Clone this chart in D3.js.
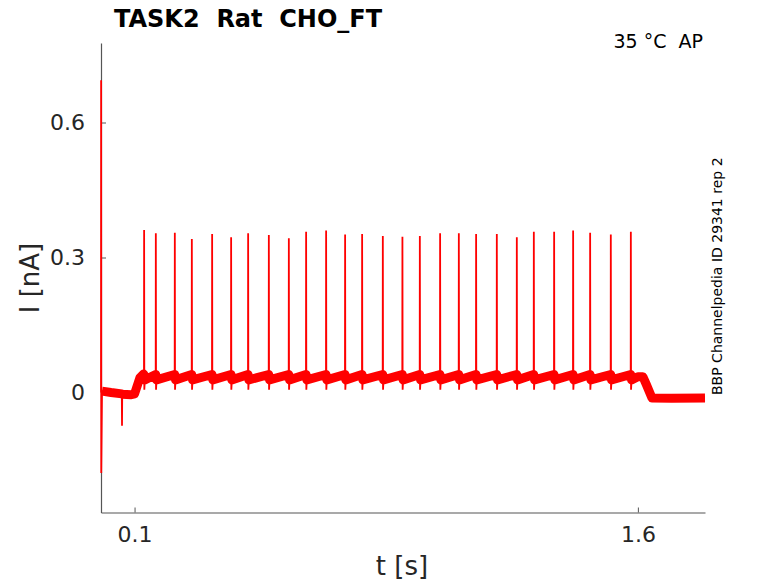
<!DOCTYPE html>
<html>
<head>
<meta charset="utf-8">
<script src="https://cdn.jsdelivr.net/npm/d3@7"></script>
<style>
  html, body { margin: 0; padding: 0; background: #fff; }
  svg { display: block; font-family: "DejaVu Sans", sans-serif; }
</style>
</head>
<body>
<svg id="chart" width="778" height="583"></svg>
<script>
// ---------- data ----------
const title = "TASK2  Rat  CHO_FT";
const conditionLabel = "35 °C  AP";
const sideLabel = "BBP Channelpedia ID 29341 rep 2";
const xLabel = "t [s]";
const yLabel = "I [nA]";

const xTickValues = [0.1, 1.6];
const xTickLabels = ["0.1", "1.6"];
const yTickValues = [0, 0.3, 0.6];
const yTickLabels = ["0", "0.3", "0.6"];

// Pre-stimulus segment (incl. onset transient and small negative spike)
const preStimT = [0.000, 0.0004, 0.0008, 0.0030, 0.0300, 0.0620, 0.0626, 0.0632, 0.0900, 0.1000, 0.1160, 0.1270];
const preStimV = [0.000, 0.694, -0.179, 0.003, 0.000, -0.003, -0.074, -0.004, -0.005, -0.003, 0.033, 0.041];

// Action-potential spikes
const spikeTimes = [0.1281, 0.1630, 0.2196, 0.2703, 0.3308, 0.3874, 0.4381, 0.4998, 0.5594,
                    0.6109, 0.6705, 0.7271, 0.7778, 0.8395, 0.8979, 0.9498, 1.0102, 1.0660,
                    1.1175, 1.1792, 1.2388, 1.2895, 1.3500, 1.4066, 1.4573, 1.5189, 1.5786];
const spikePeaks = [0.361, 0.354, 0.355, 0.341, 0.352, 0.345, 0.354, 0.350, 0.343,
                    0.357, 0.360, 0.351, 0.352, 0.348, 0.346, 0.348, 0.354, 0.354,
                    0.352, 0.352, 0.345, 0.357, 0.357, 0.360, 0.355, 0.351, 0.357];
const preSpikeLevel = 0.040;   // baseline just before each spike
const afterDipLevel = 0.006;   // brief undershoot after each spike
const postSpikeLevel = 0.028;  // baseline just after each spike

// Post-stimulus segment
const postStimT = [1.6000, 1.6150, 1.6250, 1.6420, 1.7000, 1.8000];
const postStimV = [0.035, 0.035, 0.018, -0.012, -0.013, -0.012];

// ---------- layout ----------
const svg = d3.select("#chart");
const mLeft = 101, mRight = 705, mTop = 43, mBottom = 512.5;
const x = d3.scaleLinear().domain([0, 1.8]).range([mLeft, mRight]);
const y = d3.scaleLinear().domain([-0.2667, 0.7767]).range([mBottom, mTop]);

const axisColor = "#555";
const textColor = "#262626";
const red = "#ff0000";

// ---------- build trace ----------
const thin = [];   // full trace incl. spikes
const band = [];   // noisy baseline band (no spikes)
preStimT.forEach((t, i) => thin.push([t, preStimV[i]]));
preStimT.forEach((t, i) => { if (i >= 3 && i !== 6) band.push([t, preStimV[i]]); });
spikeTimes.forEach((t, i) => {
  thin.push([t, preSpikeLevel]);
  thin.push([t + 0.0004, spikePeaks[i]]);
  thin.push([t + 0.0010, afterDipLevel]);
  thin.push([t + 0.0025, postSpikeLevel]);
  band.push([t, preSpikeLevel]);
  band.push([t + 0.0025, postSpikeLevel]);
});
postStimT.forEach((t, i) => { thin.push([t, postStimV[i]]); band.push([t, postStimV[i]]); });

const line = d3.line().x(d => x(d[0])).y(d => y(d[1]));

// ---------- axes ----------
const xAxis = d3.axisBottom(x)
  .tickValues(xTickValues)
  .tickFormat((d, i) => xTickLabels[i])
  .tickSizeInner(-5).tickSizeOuter(0).tickPadding(14);
const yAxis = d3.axisLeft(y)
  .tickValues(yTickValues)
  .tickFormat((d, i) => yTickLabels[i])
  .tickSizeInner(-5).tickSizeOuter(0).tickPadding(16);

const gx = svg.append("g").attr("transform", `translate(0,${mBottom})`).call(xAxis);
const gy = svg.append("g").attr("transform", `translate(${mLeft},0)`).call(yAxis);
[gx, gy].forEach(g => {
  g.select(".domain").attr("stroke", axisColor).attr("stroke-width", 1.2);
  g.selectAll(".tick line").attr("stroke", axisColor).attr("stroke-width", 1);
  g.selectAll(".tick text").attr("fill", textColor)
    .style("font-family", "DejaVu Sans, sans-serif").style("font-size", "22px");
});

// ---------- trace ----------
svg.append("path").datum(band)
  .attr("d", line).attr("fill", "none").attr("stroke", red)
  .attr("stroke-width", 9).attr("stroke-linejoin", "round");
svg.append("path").datum(thin)
  .attr("d", line).attr("fill", "none").attr("stroke", red)
  .attr("stroke-width", 1.8).attr("stroke-linejoin", "miter");

// ---------- texts ----------
svg.append("text").attr("x", 114).attr("y", 27)
  .attr("font-size", 24).attr("font-weight", "bold").attr("fill", "#000")
  .style("white-space", "pre").text(title);

svg.append("text").attr("x", 703).attr("y", 48).attr("text-anchor", "end")
  .attr("font-size", 19).attr("fill", "#000")
  .style("white-space", "pre").text(conditionLabel);

svg.append("text").attr("transform", "translate(722,395) rotate(-90)")
  .attr("font-size", 14).attr("fill", "#000").text(sideLabel);

svg.append("text").attr("x", 402).attr("y", 575).attr("text-anchor", "middle")
  .attr("font-size", 26).attr("fill", textColor).text(xLabel);

svg.append("text").attr("transform", "translate(39,278) rotate(-90)")
  .attr("text-anchor", "middle")
  .attr("font-size", 26).attr("fill", textColor).text(yLabel);
</script>
</body>
</html>
